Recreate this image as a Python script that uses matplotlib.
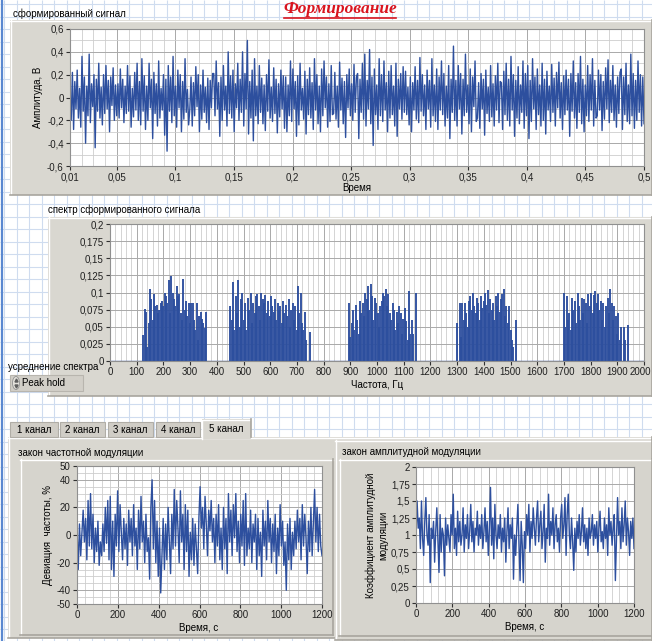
import numpy as np
import matplotlib
matplotlib.use('Agg')
import matplotlib.pyplot as plt
import matplotlib.transforms as mtransforms
from matplotlib.patches import Rectangle, Ellipse
from matplotlib.ticker import MultipleLocator, FixedLocator, FixedFormatter

# ---------------- data ----------------
# formed signal, units of 0.01 V, evenly sampled over 0.01..0.5 s
signal_cV = [
    3, -20, 22, -28, 14, -10, 24, -18, 8, -26, 36, -12, 18, -40, 10, -16, 38, -22, 12, -8,
    20, -44, 16, -12, 30, -18, 9, -24, 20, -14, 28, -10, 15, -30, 18, -7, 26, -20, 11, -16,
    12, -18, 25, -9, 16, -22, 10, -14, 28, -12, 19, -26, 8, -17, 22, -11, 30, -20, 14, -24,
    34, -12, 19, -28, 10, -20, 30, -9, 16, -36, 22, -14, 12, -25, 32, -18, 8, -11, 20, -33,
    16, -47, 28, -12, 18, -22, 36, -16, 10, -26, 24, -9, 20, -30, 14, -19, 34, -13, 7, -24,
    -10, 18, -25, 13, -16, 27, -8, 20, -30, 11, -19, 24, -13, 9, -22, 17, -28, 15, -9, 21,
    21, -16, 32, -10, 13, -34, 18, -20, 28, -11, 10, -25, 40, -14, 19, -18, 24, -30, 12, -9,
    30, -20, 16, -13, 40, -25, 21, -10, 50, -32, 14, -18, 24, -38, 34, -16, 10, -23, 28, -13,
    17, -23, 11, -29, 20, -12, 33, -18, 9, -21, 26, -14, 16, -31, 12, -17, 24, -10, 19, -27,
    18, -30, 11, -16, 32, -21, 25, -10, 14, -34, 19, -24, 30, -11, 8, -19, 23, -32, 16, -15,
    26, -18, 13, -28, 34, -11, 20, -23, 10, -30, 25, -16, 32, -9, 18, -26, 12, -21, 28, -15,
    -14, 22, -19, 10, -26, 31, -11, 17, -23, 14, -35, 20, -9, 25, -16, 12, -20, 29, -13, 18,
    21, -36, 16, -13, 30, -19, 38, -25, 15, -10, 42, -23, 18, -42, 25, -15, 11, -28, 34, -16,
    20, -21, 32, -11, 13, -30, 23, -18, 28, -15, 10, -25, 30, -34, 16, -10, 21, -19, 27, -13,
    23, -15, 9, -24, 18, -30, 13, -11, 27, -19, 15, -22, 35, -12, 20, -16, 11, -28, 24, -10,
    15, -26, 34, -16, 11, -21, 25, -28, 18, -11, 32, -15, 21, -25, 10, -18, 28, -36, 16, -13,
    45, -20, 15, -25, 28, -10, 21, -32, 16, -16, 38, -13, 11, -23, 25, -30, 18, -8, 32, -21,
    -18, 13, -27, 21, -10, 16, -33, 24, -14, 9, -21, 28, -17, 12, -25, 19, -11, 30, -22, 14,
    13, -28, 23, -15, 30, -20, 16, -25, 36, -11, 20, -34, 15, -18, 27, -23, 11, -13, 32, -27,
    21, -16, 28, -36, 15, -21, 34, -10, 18, -28, 25, -15, 11, -25, 30, -20, 16, -32, 23, -11,
    10, -21, 29, -13, 17, -25, 22, -9, 31, -18, 13, -28, 19, -15, 24, -11, 16, -34, 21, -12,
    32, -18, 13, -27, 21, -13, 36, -23, 16, -30, 11, -16, 28, -21, 20, -11, 34, -25, 15, -18,
    -16, 24, -11, 20, -29, 14, -19, 26, -10, 33, -22, 15, -13, 28, -20, 11, -26, 18, -14, 22,
    25, -28, 18, -15, 30, -21, 11, -23, 38, -16, 21, -27, 15, -20, 32, -13, 20, -25, 18, -23,
]
signal_t_range = (0.01, 0.5)

# spectrum (peak hold), units of 0.001, per frequency band
band_limits_hz = [(125, 360), (450, 750), (895, 1145), (1300, 1520), (1700, 1940)]
band1 = [38, 76, 72, 20, 55, 105, 90, 60, 98, 80, 82, 70, 75, 85, 88, 80, 100, 95, 85, 118,
         70, 124, 100, 90, 80, 110, 95, 98, 70, 60, 120, 75, 88, 65, 85, 55, 85, 85, 60, 45,
         85, 30, 65, 72, 62, 55, 48, 72]
band2 = [80, 60, 115, 45, 95, 70, 118, 50, 90, 100, 60, 85, 45, 92, 75, 100, 55, 85, 70, 95,
         98, 80, 60, 100, 90, 85, 96, 70, 88, 65, 95, 80, 72, 90, 60, 85, 75, 80, 55, 88,
         70, 82, 65, 90, 50, 75, 85, 60, 80, 45, 110, 70, 100, 55, 45, 72, 30, 0, 0, 42]
band3 = [85, 35, 55, 75, 45, 82, 60, 40, 88, 70, 85, 65, 100, 90, 110, 75, 112, 95, 60, 92,
         85, 70, 50, 80, 88, 100, 95, 105, 80, 98, 70, 60, 85, 75, 45, 72, 55, 80, 70, 40,
         62, 78, 58, 30, 102, 40, 60, 40, 0, 100]
band4 = [55, 0, 85, 35, 85, 60, 84, 70, 50, 88, 95, 75, 100, 80, 70, 92, 85, 60, 95, 78,
         88, 100, 82, 104, 70, 90, 75, 85, 60, 95, 80, 100, 72, 90, 98, 105, 65, 80, 55, 80,
         45, 30, 20, 0, 60]
band5 = [100, 50, 95, 60, 70, 45, 92, 75, 88, 55, 100, 80, 60, 92, 70, 90, 85, 55, 98, 80,
         100, 70, 96, 102, 85, 98, 75, 88, 60, 85, 50, 80, 92, 70, 105, 85, 60, 80, 65, 40,
         70, 30, 50, 0, 50, 30, 0, 52]
bands = [band1, band2, band3, band4, band5]

# frequency-modulation law, % deviation, over 0..1200 s
fm_pct = [
    5, -25, 8, -15, 2, 18, -5, 12, -18, 25, -8, 30, -10, 15, -20, 5, -12, 10, -22, -5,
    -15, 8, -12, 20, -6, 25, -18, 28, -25, 10, -30, 15, -8, 32, -12, 22, 2, -18, 12, -10,
    8, -22, 18, -5, 12, -15, 22, -8, 5, -25, 18, -10, 28, -5, 10, -20, 15, -12, -2, -32,
    20, 40, -10, 25, -20, 10, -30, 5, -42, -15, 12, -25, 8, -18, 20, -5, -28, 15, -10, 33,
    -8, 25, 5, -20, 32, -5, 15, -25, 22, -12, 18, -30, 2, -18, 12, -22, 8, -10, -28, 12,
    35, 5, 20, -10, 28, 8, -15, 18, 3, 25, -5, 12, -20, 15, -8, 22, -18, 5, -25, 20,
    -10, 12, -28, 30, -5, 18, -15, 22, -2, 30, -12, 10, -20, 15, -8, 25, -22, 30, -15, 5,
    -10, 18, -20, 8, -5, 15, -25, 12, -15, 2, -30, 18, -8, 10, -18, 25, -5, 12, -20, 8,
    -12, 15, -28, 5, -15, 22, -8, 10, -22, -5, -40, 8, -18, 12, -25, 2, -15, 10, -10, 18,
    -5, 12, -18, 22, -8, 15, -2, -28, 10, -12, 20, -15, 8, 33, -5, 20, -12, 15, -8, -15,
]
# amplitude-modulation coefficient, units of 0.01, over 0..1200 s
am_c = [
    100, 150, 110, 125, 80, 150, 95, 70, 120, 155, 100, 85, 130, 30, 110, 95, 120, 60, 105, 140,
    90, 45, 130, 75, 110, 100, 40, 125, 85, 115, 95, 75, 130, 100, 160, 80, 110, 70, 135, 90,
    120, 85, 100, 140, 75, 115, 95, 130, 80, 105, 145, 90, 120, 75, 110, 100, 135, 85, 115, 95,
    130, 80, 105, 140, 90, 120, 70, 110, 170, 85, 125, 65, 145, 100, 80, 115, 95, 130, 75, 110,
    90, 125, 60, 105, 140, 80, 115, 95, 125, 35, 100, 70, 110, 145, 90, 33, 120, 85, 30, 105,
    80, 130, 100, 145, 75, 120, 95, 140, 110, 85, 125, 150, 90, 115, 135, 80, 105, 145, 60, 110,
    95, 160, 85, 120, 100, 140, 80, 115, 130, 90, 110, 75, 125, 145, 95, 115, 155, 70, 130, 160,
    100, 80, 125, 90, 48, 110, 75, 120, 95, 130, 85, 105, 140, 90, 115, 80, 110, 70, 125, 95,
    105, 130, 85, 115, 95, 120, 75, 110, 135, 90, 105, 80, 125, 95, 115, 70, 140, 100, 120, 85,
    110, 130, 33, 95, 155, 100, 120, 80, 140, 90, 115, 150, 85, 125, 105, 70, 120, 95, 125, 80,
]
law_t_range = (0, 1200)

top_xticks = [0.01, 0.05, 0.1, 0.15, 0.2, 0.25, 0.3, 0.35, 0.4, 0.45, 0.5]
top_xlabels = ['0,01', '0,05', '0,1', '0,15', '0,2', '0,25', '0,3', '0,35', '0,4', '0,45', '0,5']
top_yticks = [-0.6, -0.4, -0.2, 0, 0.2, 0.4, 0.6]
top_ylabels = ['-0,6', '-0,4', '-0,2', '0', '0,2', '0,4', '0,6']
spec_xticks = list(range(0, 2001, 100))
spec_yticks = [0, 0.025, 0.05, 0.075, 0.1, 0.125, 0.15, 0.175, 0.2]
spec_ylabels = ['0', '0,025', '0,05', '0,075', '0,1', '0,125', '0,15', '0,175', '0,2']
fm_yticks = [-50, -40, -20, 0, 20, 40, 50]
law_xticks = [0, 200, 400, 600, 800, 1000, 1200]
am_yticks = [0, 0.25, 0.5, 0.75, 1, 1.25, 1.5, 1.75, 2]
am_ylabels = ['0', '0,25', '0,5', '0,75', '1', '1,25', '1,5', '1,75', '2']
tab_names = ['1 канал', '2 канал', '3 канал', '4 канал', '5 канал']

# ---------------- style ----------------
FONT = ['Liberation Sans', 'DejaVu Sans']
plt.rcParams['font.family'] = FONT
FS = 7
LINE = '#2d4f9e'
PANEL = '#d9d7d0'

W, H = 652, 641
fig = plt.figure(figsize=(W / 100, H / 100), dpi=100)
fig.patch.set_facecolor('white')
bg = fig.add_axes([0, 0, 1, 1])
bg.set_xlim(0, W)
bg.set_ylim(H, 0)
bg.axis('off')

# graph-paper background
step = 12.5
bg.vlines(np.arange(4, W, step), 0, H, color='#cfdcef', lw=0.8, zorder=0)
bg.hlines(np.arange(4, H, step), 0, W, color='#cfdcef', lw=0.8, zorder=0)
bg.vlines([2], 0, H, color='#5a88d0', lw=1.6, zorder=1)


def panel(x0, y0, x1, y1, color=PANEL, z=1):
    bg.add_patch(Rectangle((x0, y0), x1 - x0, y1 - y0, facecolor=color, edgecolor='none', zorder=z))
    bg.plot([x0, x1], [y0 + 0.5, y0 + 0.5], color='white', lw=1, zorder=z + 0.1)
    bg.plot([x0 + 0.5, x0 + 0.5], [y0, y1], color='white', lw=1, zorder=z + 0.1)
    bg.plot([x0, x1], [y1 - 0.5, y1 - 0.5], color='#a8a59e', lw=1.2, zorder=z + 0.1)
    bg.plot([x1 - 0.5, x1 - 0.5], [y0, y1], color='#a8a59e', lw=1.2, zorder=z + 0.1)


def ax_at(x0, y0, x1, y1):
    a = fig.add_axes([x0 / W, 1 - y1 / H, (x1 - x0) / W, (y1 - y0) / H])
    a.set_facecolor('white')
    for s in a.spines.values():
        s.set_color('#909090')
        s.set_linewidth(0.8)
    a.tick_params(which='major', direction='out', length=3, width=0.8, color='#303030',
                  labelsize=FS, pad=1.5, labelcolor='#202020')
    a.tick_params(which='minor', length=0)
    a.set_axisbelow(True)
    return a


def style_grid(a):
    a.grid(which='major', color='#a9a9a9', lw=0.7)
    a.grid(which='minor', color='#cdcdcd', lw=0.6)


# title
bg.text(340, 9, 'Формирование', color='#d9141e', fontsize=12.5, fontweight='bold',
        fontstyle='italic', family=['Liberation Serif', 'DejaVu Serif'], ha='center', va='center', zorder=5)
bg.plot([284, 396], [18, 18], color='#d9141e', lw=1.2, zorder=5)

# ---------------- top: formed signal ----------------
panel(10, 20, 652, 195)
bg.text(13, 14, 'сформированный сигнал', fontsize=FS, va='center', ha='left', zorder=5)
ax1 = ax_at(70, 29, 644, 166)
t = np.linspace(signal_t_range[0], signal_t_range[1], len(signal_cV))
ax1.plot(t, np.array(signal_cV) / 100.0, color=LINE, lw=1.0)
ax1.set_xlim(0.01, 0.5)
ax1.set_ylim(-0.6, 0.6)
ax1.xaxis.set_major_locator(FixedLocator(top_xticks))
ax1.xaxis.set_major_formatter(FixedFormatter(top_xlabels))
ax1.xaxis.set_minor_locator(MultipleLocator(0.01))
ax1.yaxis.set_major_locator(FixedLocator(top_yticks))
ax1.yaxis.set_major_formatter(FixedFormatter(top_ylabels))
ax1.yaxis.set_minor_locator(MultipleLocator(0.1))
style_grid(ax1)
bg.text(357, 188, 'Время', fontsize=FS, ha='center', va='center', zorder=5)
bg.text(38, 97, 'Амплитуда, В', fontsize=FS, ha='center', va='center', rotation=90, zorder=5)

# ---------------- spectrum ----------------
panel(48, 217, 652, 396)
bg.text(48, 210, 'спектр сформированного сигнала', fontsize=FS, va='center', ha='left', zorder=5)
ax2 = ax_at(110, 224, 644, 361)
ax2.axhline(0, color=LINE, lw=1.0)
for (lo, hi), vals in zip(band_limits_hz, bands):
    f = np.linspace(lo, hi, len(vals))
    ax2.vlines(f, 0, np.array(vals) / 1000.0, color=LINE, lw=1.35)
ax2.set_xlim(0, 2000)
ax2.set_ylim(0, 0.2)
ax2.xaxis.set_major_locator(FixedLocator(spec_xticks))
ax2.xaxis.set_major_formatter(FixedFormatter([str(v) for v in spec_xticks]))
ax2.xaxis.set_minor_locator(MultipleLocator(20))
ax2.yaxis.set_major_locator(FixedLocator(spec_yticks))
ax2.yaxis.set_major_formatter(FixedFormatter(spec_ylabels))
style_grid(ax2)
last = ax2.get_xticklabels()[-1]
last.set_transform(last.get_transform() + mtransforms.ScaledTranslation(-4 / 100, 0, fig.dpi_scale_trans))
bg.text(377, 385, 'Частота, Гц', fontsize=FS, ha='center', va='center', zorder=5)

# spectrum averaging control
bg.text(8, 367, 'усреднение спектра', fontsize=FS, ha='left', va='center', zorder=6)
bg.add_patch(Rectangle((10, 375), 73, 16, facecolor='#d2cfc8', edgecolor='#b8b5ae', lw=0.8, zorder=6))
bg.add_patch(Ellipse((16, 383), 7, 13, facecolor='#e4e2dc', edgecolor='#909090', lw=0.6, zorder=7))
bg.plot([16], [380], marker='^', ms=2.2, color='#606060', zorder=8)
bg.plot([16], [386], marker='v', ms=2.2, color='#606060', zorder=8)
bg.text(22, 383, 'Peak hold', fontsize=FS, ha='left', va='center', zorder=7)

# ---------------- tabs ----------------
tab_x = [(10, 58), (60, 105), (108, 153), (156, 200)]
panel(8, 437, 652, 638, color=PANEL)
for (x0, x1), name in zip(tab_x, tab_names[:4]):
    bg.add_patch(Rectangle((x0, 422), x1 - x0, 15, facecolor='#d0cdc6', edgecolor='#b0ada6', lw=0.8, zorder=3))
    bg.text((x0 + x1) / 2, 430, name, fontsize=FS, ha='center', va='center', zorder=4)
bg.add_patch(Rectangle((202, 419), 49, 20, facecolor=PANEL, edgecolor='none', zorder=3))
bg.plot([202, 202, 251], [439, 419.5, 419.5], color='white', lw=1, zorder=3.2)
bg.plot([251, 251], [419, 437], color='#a8a59e', lw=1.2, zorder=3.2)
bg.text(226.5, 429, tab_names[4], fontsize=FS, ha='center', va='center', zorder=4)

# left: FM law
bg.text(18, 453, 'закон частотной модуляции', fontsize=FS, ha='left', va='center', zorder=5)
panel(20, 459, 333, 635, color='#d6d4cd', z=2)
ax3 = ax_at(77, 466, 322, 604)
tl = np.linspace(law_t_range[0], law_t_range[1], len(fm_pct))
ax3.plot(tl, fm_pct, color=LINE, lw=1.0)
ax3.set_xlim(0, 1200)
ax3.set_ylim(-50, 50)
ax3.xaxis.set_major_locator(FixedLocator(law_xticks))
ax3.xaxis.set_major_formatter(FixedFormatter([str(v) for v in law_xticks]))
ax3.xaxis.set_minor_locator(MultipleLocator(40))
ax3.yaxis.set_major_locator(FixedLocator(fm_yticks))
ax3.yaxis.set_major_formatter(FixedFormatter([str(v) for v in fm_yticks]))
ax3.yaxis.set_minor_locator(MultipleLocator(5))
style_grid(ax3)
bg.text(199, 628, 'Время, с', fontsize=FS, ha='center', va='center', zorder=5)
bg.text(48, 535, 'Девиация  частоты, %', fontsize=FS, ha='center', va='center', rotation=90, zorder=5)

# right: AM law
panel(335, 440, 652, 640, color=PANEL, z=2)
bg.text(342, 452, 'закон амплитудной модуляции', fontsize=FS, ha='left', va='center', zorder=5)
panel(339, 459, 652, 636, color='#d6d4cd', z=2.5)
ax4 = ax_at(416, 467, 634, 603)
ta = np.linspace(law_t_range[0], law_t_range[1], len(am_c))
ax4.plot(ta, np.array(am_c) / 100.0, color=LINE, lw=1.0)
ax4.set_xlim(0, 1200)
ax4.set_ylim(0, 2)
ax4.xaxis.set_major_locator(FixedLocator(law_xticks))
ax4.xaxis.set_major_formatter(FixedFormatter([str(v) for v in law_xticks]))
ax4.xaxis.set_minor_locator(MultipleLocator(40))
ax4.yaxis.set_major_locator(FixedLocator(am_yticks))
ax4.yaxis.set_major_formatter(FixedFormatter(am_ylabels))
style_grid(ax4)
bg.text(525, 627, 'Время, с', fontsize=FS, ha='center', va='center', zorder=5)
bg.text(377, 535, 'Коэффициент амплитудной\nмодуляции', fontsize=FS, ha='center', va='center',
        rotation=90, linespacing=1.3, zorder=5)

fig.savefig('out.png', dpi=100, facecolor='white')
